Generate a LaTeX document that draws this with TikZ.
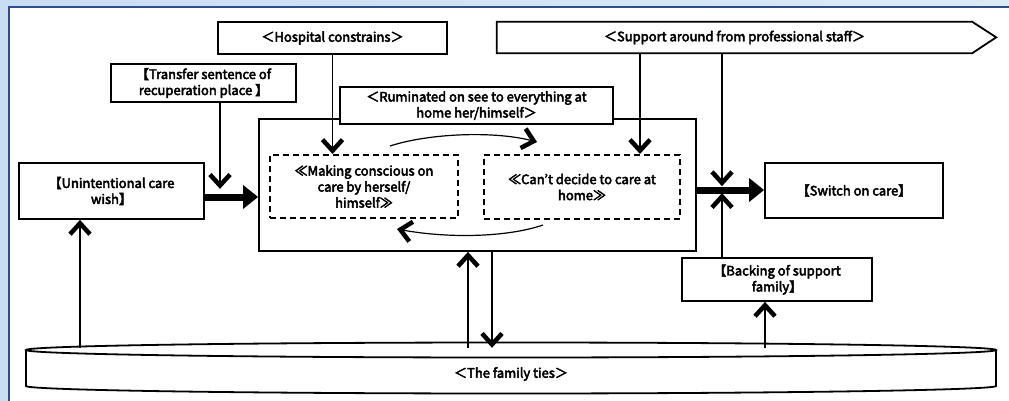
\documentclass[tikz,border=0pt]{standalone}
\usepackage{fontspec}
\setmainfont{Noto Sans CJK JP}[AutoFakeBold=3.5]
\usetikzlibrary{arrows.meta,calc}
\definecolor{bgblue}{HTML}{DCE9F7}
\definecolor{bgblue2}{HTML}{C9DDF3}
\definecolor{frameblue}{HTML}{2E4D8F}
\tikzset{
  txt/.style={font=\fontsize{13}{16}\selectfont\bfseries},
  box/.style={draw,line width=1.8pt,fill=white,align=center,inner sep=0pt,txt},
  dbox/.style={box,dash pattern=on 6pt off 4pt,line width=2pt},
  vhead/.tip={Straight Barb[length=11pt,width=20pt,line width'=4.5pt]},
  thinarr/.style={line width=1.2pt,-vhead},
  thickarr/.style={line width=7pt,-{Triangle[length=15pt,width=23pt]}},
  cyl/.style={line width=1.8pt,fill=white},
}
\begin{document}
\begin{tikzpicture}[x=1pt,y=-1pt]
\useasboundingbox (0,0) rectangle (1009,401);
% background and frame
\fill[left color=bgblue2,right color=bgblue] (0,0) rectangle (1009,401);
\fill[white] (8,7) rectangle (1009,401);
\draw[frameblue,line width=2pt] (9,401) -- (9,7) -- (1009,7);

% big solid box
\node[box,minimum width=437pt,minimum height=132pt] (big) at (477.5,185) {};
% top boxes
\node[box,minimum width=229pt,minimum height=32pt] (hosp) at (332.5,38) {＜Hospital constrains＞};
\node[txt,inner sep=0pt,minimum width=475pt,minimum height=31pt] (supp) at (734.5,37.5) {＜Support around from professional staff＞};
\draw[line width=1.8pt,line join=miter] (supp.north west) -- (supp.north east) -- ++(24,15.5) -- (supp.south east) -- (supp.south west) -- cycle;
\node[box,minimum width=185pt,minimum height=38pt] (transfer) at (203.5,83) {【Transfer sentence of\\recuperation place 】};
\node[box,minimum width=273pt,minimum height=37pt] (rum) at (476.5,105.5) {＜Ruminated on see to everything at\\home her/himself＞};
% inner dashed boxes
\node[dbox,minimum width=188pt,minimum height=63pt] (lbox) at (364,186.5) {≪Making conscious on\\care by herself/\\himself≫};
\node[dbox,minimum width=196pt,minimum height=64pt] (rbox) at (582,187) {≪Can’t decide to care at\\home≫};
% side boxes
\node[box,minimum width=185pt,minimum height=56pt] (unint) at (111.5,191) {【Unintentional care\\wish】};
\node[box,minimum width=178pt,minimum height=55pt] (switch) at (854,190.5) {【Switch on care】};
\node[box,minimum width=190pt,minimum height=43pt] (back) at (777,279.5) {【Backing of support\\family】};

% family ties cylinder
\draw[cyl] (26,350) -- (26,386) .. controls (26,390.1) and (243.1,393.5) .. (511,393.5)
  .. controls (778.9,393.5) and (996,390.1) .. (996,386) -- (996,350);
\draw[cyl] (511,350) ellipse [x radius=485,y radius=7.5];
\node[txt,inner sep=0pt,minimum width=970pt,minimum height=52pt] (fam) at (511,374) {＜The family ties＞};

% thick arrows
\draw[thickarr] ([yshift=-6pt]unint.east) -- ([yshift=-6pt]unint.east -| big.west);
\draw[thickarr] ([yshift=-5pt]big.east) -- ([yshift=-5pt]big.east -| switch.west);

% thin arrows from above
\draw[thinarr] ([xshift=16.5pt]transfer.south) -- ++(0,86);
\draw[thinarr] (hosp.south) -- (hosp.south |- lbox.north);
\draw[thinarr] ([xshift=-94.5pt]supp.south) -- ([xshift=-94.5pt]supp.south |- rbox.north);
\draw[thinarr] ([xshift=-12.5pt]supp.south) -- ++(0,133);
\draw[thinarr] ([xshift=-55pt]back.north) -- ++(0,-64);

% arrows from / to family ties
\draw[thinarr] ([xshift=-31.5pt]unint.south |- fam.north) -- ([xshift=-31.5pt]unint.south);
\draw[thinarr] ([xshift=-9.5pt]big.south |- fam.north) -- ([xshift=-9.5pt]big.south);
\draw[thinarr] ([xshift=14.5pt]big.south) -- ([xshift=14.5pt]big.south |- fam.north);
\draw[thinarr] ([xshift=-12pt]back.south |- fam.north) -- ([xshift=-12pt]back.south);

% curved arrows between inner boxes
\coordinate (c1) at (390,146);
\coordinate (c2) at (537,142);
\coordinate (c3) at (543,225);
\coordinate (c4) at (397,229);
\draw[thinarr] (c1) .. controls (430,133) and (495,131) .. (c2);
\draw[thinarr] (c3) .. controls (505,238) and (445,238) .. (c4);
\end{tikzpicture}
\end{document}
